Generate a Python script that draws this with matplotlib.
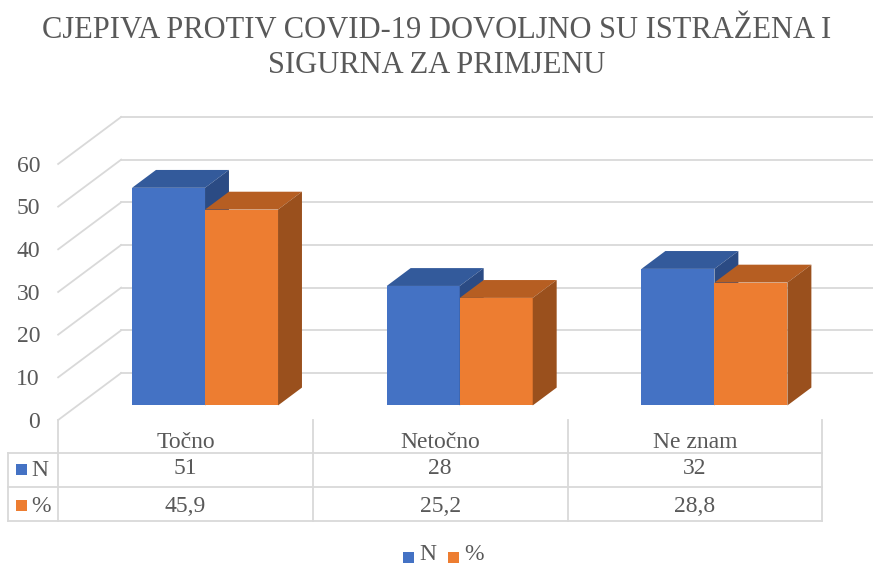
import matplotlib
matplotlib.use("Agg")
import matplotlib.pyplot as plt
from matplotlib.patches import Polygon, Rectangle
import numpy as np

# podaci
categories = ["Točno", "Netočno", "Ne znam"]
n_values = [51, 28, 32]
pct_values = [45.9, 25.2, 28.8]
pct_labels = ["45,9", "25,2", "28,8"]
series_names = ["N", "%"]
y_ticks = [0, 10, 20, 30, 40, 50, 60]
title = "CJEPIVA PROTIV COVID-19 DOVOLJNO SU ISTRAŽENA I\nSIGURNA ZA PRIMJENU"

# boje (prednja, gornja, bočna ploha)
blue = ("#4472C4", "#335A9B", "#2B4B84")
orange = ("#ED7D31", "#B65E22", "#9A501D")
grid_c = "#D9D9D9"
text_c = "#595959"

plt.rcParams["font.family"] = ["Liberation Serif", "DejaVu Serif"]

W, H = 873, 567
fig = plt.figure(figsize=(W / 100, H / 100), dpi=100)
ax = fig.add_axes([0, 0, 1, 1])
ax.axis("off")

# mapiranje: x piksel = X0 + CW*x, y piksel = Y0 - S*v
X0, CW, Y0, S = 185.5, 254.7, 420.0, 4.267
ax.set_xlim(-X0 / CW, (W - X0) / CW)
ax.set_ylim((Y0 - H) / S, Y0 / S)

# vektor dubine (cijela dubina poda)
DX, DV = 63 / CW, 47 / S
d0, d1 = 0.31, 0.69
bw = 73 / CW
fs = 17


def px(x, y):
    return (x / W, 1 - y / H)


# mreža: lijevi zid + stražnji zid
for v in y_ticks:
    ax.plot([-0.5, -0.5 + DX], [v, v + DV], color=grid_c, lw=1.3, zorder=1)
    ax.plot([-0.5 + DX, 3.0], [v + DV, v + DV], color=grid_c, lw=1.3, zorder=1)


def bar3d(x_left, value, cols):
    xl = x_left + d0 * DX
    xr = xl + bw
    base = d0 * DV
    ddx, ddv = (d1 - d0) * DX, (d1 - d0) * DV
    ax.bar(xl, value, width=bw, bottom=base, align="edge", color=cols[0], lw=0, zorder=3)
    top = [(xl, base + value), (xr, base + value), (xr + ddx, base + value + ddv), (xl + ddx, base + value + ddv)]
    side = [(xr, base), (xr, base + value), (xr + ddx, base + value + ddv), (xr + ddx, base + ddv)]
    ax.add_patch(Polygon(top, closed=True, fc=cols[1], ec="none", zorder=3))
    ax.add_patch(Polygon(side, closed=True, fc=cols[2], ec="none", zorder=3))


pos = np.arange(len(categories))
for i in pos:
    bar3d(i - bw, n_values[i], blue)
    bar3d(i, pct_values[i], orange)

# oznake osi y
ytr = ax.get_yaxis_transform()
for v in y_ticks:
    ax.text(40 / W, v - 0.5, str(v), transform=ytr, ha="right", va="center", fontsize=fs, color=text_c)

# tablica podataka
at = ax.transAxes
rows_y = [453, 487, 521]
left_px = 8
col_px = [X0 + CW * (k - 0.5) for k in range(4)]
line_kw = dict(color=grid_c, lw=1.3, transform=at, zorder=2)
for k in col_px:
    ax.plot(*zip(px(k, 420), px(k, 453)), **line_kw)
for yy in rows_y:
    ax.plot(*zip(px(left_px, yy), px(col_px[-1], yy)), **line_kw)
for k in [left_px] + col_px:
    ax.plot(*zip(px(k, 453), px(k, 521)), **line_kw)

xtr = ax.get_xaxis_transform()
for i in pos:
    ax.text(i, 1 - 442 / H, categories[i], transform=xtr, ha="center", va="center", fontsize=fs, color=text_c)
    ax.text(i, 1 - 469 / H, str(n_values[i]), transform=xtr, ha="center", va="center", fontsize=fs, color=text_c)
    ax.text(i, 1 - 506 / H, pct_labels[i], transform=xtr, ha="center", va="center", fontsize=fs, color=text_c)

for name, cols, yy in zip(series_names, [blue, orange], [469, 505]):
    ax.add_patch(Rectangle(px(16, yy + 5.5), 11 / W, 11 / H, transform=at, fc=cols[0], ec="none"))
    ax.text(*px(31, yy + 1), name, transform=at, ha="left", va="center", fontsize=fs, color=text_c)

# legenda
for name, cols, xx in zip(series_names, [blue, orange], [403, 448]):
    ax.add_patch(Rectangle(px(xx, 563), 11 / W, 11 / H, transform=at, fc=cols[0], ec="none"))
    ax.text(*px(xx + 16, 555), name, transform=at, ha="left", va="center", fontsize=fs, color=text_c)

fig.text(0.5, 1 - 48 / H, title, ha="center", va="center", fontsize=22, color=text_c, linespacing=1.3)

fig.savefig("out.png", dpi=100)
